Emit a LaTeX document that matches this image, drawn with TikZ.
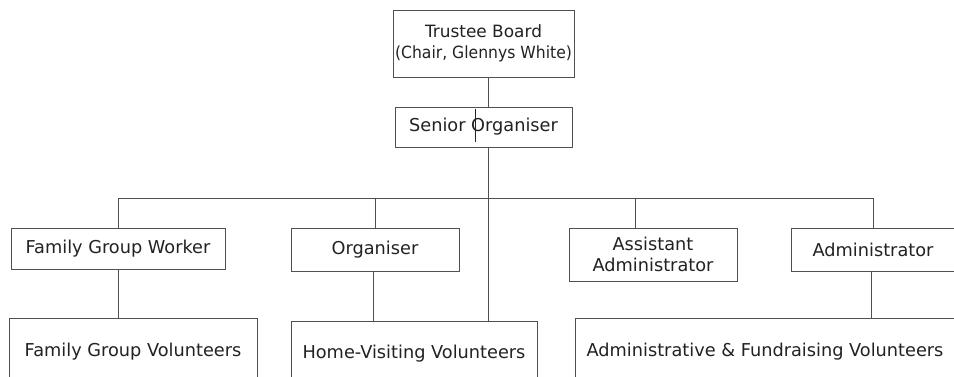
\documentclass[tikz,border=0pt]{standalone}
\usepackage{fontspec}
\setmainfont{DejaVu Sans}
\definecolor{linec}{HTML}{505050}
\definecolor{textc}{HTML}{222222}
\begin{document}
\begin{tikzpicture}[x=0.75pt,y=-0.75pt,
  box/.style={draw=linec, line width=0.75pt, fill=white, inner sep=0pt,
    font=\fontsize{13.3}{16}\selectfont, text=textc, align=center},
  link/.style={draw=linec, line width=0.75pt}]
\useasboundingbox (0,0) rectangle (954,376);
\clip (0,0) rectangle (954,376);
\fill[white] (0,0) rectangle (954,376);
% nodes
\node[box, minimum width=135.75pt, minimum height=50.25pt] (tb) at (483.5,43.5)
  {{\fontsize{12.7}{16.5}\selectfont Trustee Board}\\{\fontsize{12.6}{16.5}\selectfont\scalebox{0.93}[1]{(Chair, Glennys White)}}};
\node[box, minimum width=132.75pt, minimum height=30pt] (so) at (483.5,127) {Senior Organiser};
\node[box, minimum width=160.5pt, minimum height=30.75pt] (fgw) at (118,248.5) {Family Group Worker};
\node[box, minimum width=126pt, minimum height=32.25pt] (org) at (375,249.5) {Organiser};
\node[box, minimum width=126pt, minimum height=39.75pt] (aa) at (653,254.5) {Assistant\\Administrator};
\node[box, minimum width=123pt, minimum height=32.25pt] (adm) at (873,249.5) {Administrator};
\node[box, minimum width=186pt, minimum height=51pt] (fgv) at (133,352) {Family Group Volunteers};
\node[box, minimum width=184.5pt, minimum height=48.75pt] (hv) at (414,353.5) {Home-Visiting Volunteers};
\node[box, minimum width=285pt, minimum height=51pt] (afv) at (765,352) {Administrative \& Fundraising Volunteers};
% bus coordinates
\coordinate (trunk) at (488,198);
\coordinate (b1) at (118,198);
\coordinate (b2) at (375,198);
\coordinate (b3) at (635,198);
\coordinate (b4) at (873,198);
% connectors
\draw[link] (tb.south -| trunk) -- (so.north -| trunk);
\draw[link] (so.south -| trunk) -- (hv.north -| trunk);
\draw[link] (b1) -- (b4);
\draw[link] (b1) -- (b1 |- fgw.north);
\draw[link] (b2) -- (b2 |- org.north);
\draw[link] (b3) -- (b3 |- aa.north);
\draw[link] (b4) -- (b4 |- adm.north);
\draw[link] (fgw.south) -- (fgw.south |- fgv.north);
\draw[link] ([xshift=-1.5pt]org.south) -- ([xshift=-1.5pt]org.south |- hv.north);
\draw[link] ([xshift=-1.5pt]adm.south) -- ([xshift=-1.5pt]adm.south |- afv.north);
% stray cursor mark inside Senior Organiser
\draw[draw=textc, line width=0.75pt] (475,109) -- (475,142);
\end{tikzpicture}
\end{document}
